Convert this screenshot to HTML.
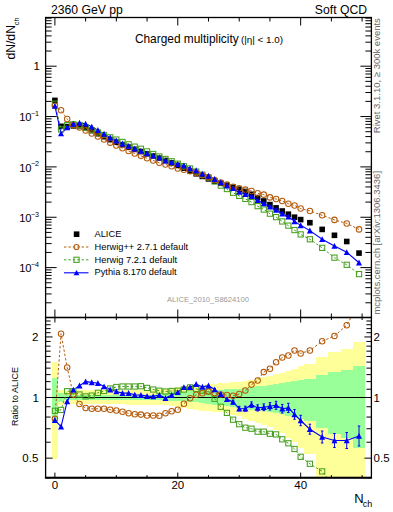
<!DOCTYPE html>
<html><head><meta charset="utf-8"><style>
html,body{margin:0;padding:0;background:#fff;width:393px;height:512px;overflow:hidden;font-family:"Liberation Sans",sans-serif}
</style></head><body>
<svg width="393" height="512" viewBox="0 0 393 512" style="position:absolute;left:0;top:0">
<rect x="0" y="0" width="393" height="512" fill="#fff"/>
<defs><clipPath id="cu"><rect x="45.60" y="17.50" width="325.80" height="300.00"/></clipPath>
<clipPath id="cl"><rect x="45.60" y="317.50" width="325.80" height="160.10"/></clipPath></defs>
<g clip-path="url(#cl)" shape-rendering="crispEdges">
<path d="M51.83,361.70 L57.97,361.70 L57.97,389.50 L64.12,389.50 L64.12,390.50 L70.26,390.50 L70.26,390.46 L76.40,390.46 L76.40,390.43 L82.55,390.43 L82.55,390.39 L88.69,390.39 L88.69,390.36 L94.84,390.36 L94.84,390.32 L100.98,390.32 L100.98,390.29 L107.12,390.29 L107.12,390.25 L113.27,390.25 L113.27,390.21 L119.41,390.21 L119.41,390.18 L125.56,390.18 L125.56,390.14 L131.70,390.14 L131.70,390.11 L137.84,390.11 L137.84,390.07 L143.99,390.07 L143.99,390.04 L150.13,390.04 L150.13,390.00 L156.28,390.00 L156.28,389.25 L162.42,389.25 L162.42,388.50 L168.56,388.50 L168.56,387.90 L174.71,387.90 L174.71,387.30 L180.85,387.30 L180.85,386.70 L187.00,386.70 L187.00,386.10 L193.14,386.10 L193.14,385.50 L199.28,385.50 L199.28,384.90 L205.43,384.90 L205.43,384.30 L211.57,384.30 L211.57,383.70 L217.72,383.70 L217.72,383.10 L223.86,383.10 L223.86,382.50 L230.00,382.50 L230.00,382.20 L236.15,382.20 L236.15,381.90 L242.29,381.90 L242.29,380.72 L248.44,380.72 L248.44,379.54 L254.58,379.54 L254.58,378.36 L260.72,378.36 L260.72,377.18 L266.87,377.18 L266.87,376.00 L273.01,376.00 L273.01,374.33 L279.16,374.33 L279.16,372.67 L285.30,372.67 L285.30,371.00 L291.44,371.00 L291.44,368.55 L297.59,368.55 L297.59,366.10 L303.73,366.10 L303.73,364.30 L316.02,364.30 L316.02,357.00 L328.31,357.00 L328.31,351.80 L340.60,351.80 L340.60,349.10 L352.88,349.10 L352.88,342.10 L365.17,342.10 L365.17,480.00 L352.88,480.00 L352.88,480.00 L340.60,480.00 L340.60,480.00 L328.31,480.00 L328.31,480.00 L316.02,480.00 L316.02,454.30 L303.73,454.30 L303.73,447.90 L297.59,447.90 L297.59,441.50 L291.44,441.50 L291.44,437.70 L285.30,437.70 L285.30,433.00 L279.16,433.00 L279.16,430.00 L273.01,430.00 L273.01,427.00 L266.87,427.00 L266.87,424.88 L260.72,424.88 L260.72,422.76 L254.58,422.76 L254.58,420.64 L248.44,420.64 L248.44,418.52 L242.29,418.52 L242.29,416.40 L236.15,416.40 L236.15,414.70 L230.00,414.70 L230.00,413.00 L223.86,413.00 L223.86,412.40 L217.72,412.40 L217.72,411.80 L211.57,411.80 L211.57,411.20 L205.43,411.20 L205.43,410.60 L199.28,410.60 L199.28,410.00 L193.14,410.00 L193.14,409.08 L187.00,409.08 L187.00,408.16 L180.85,408.16 L180.85,407.24 L174.71,407.24 L174.71,406.32 L168.56,406.32 L168.56,405.40 L162.42,405.40 L162.42,405.20 L156.28,405.20 L156.28,405.00 L150.13,405.00 L150.13,404.89 L143.99,404.89 L143.99,404.79 L137.84,404.79 L137.84,404.68 L131.70,404.68 L131.70,404.57 L125.56,404.57 L125.56,404.46 L119.41,404.46 L119.41,404.36 L113.27,404.36 L113.27,404.25 L107.12,404.25 L107.12,404.14 L100.98,404.14 L100.98,404.04 L94.84,404.04 L94.84,403.93 L88.69,403.93 L88.69,403.82 L82.55,403.82 L82.55,403.71 L76.40,403.71 L76.40,403.61 L70.26,403.61 L70.26,403.50 L64.12,403.50 L64.12,405.40 L57.97,405.40 L57.97,459.20 L51.83,459.20Z" fill="#ffff99"/>
<path d="M51.83,378.10 L57.97,378.10 L57.97,393.20 L64.12,393.20 L64.12,395.00 L70.26,395.00 L70.26,395.00 L76.40,395.00 L76.40,395.00 L82.55,395.00 L82.55,395.00 L88.69,395.00 L88.69,395.00 L94.84,395.00 L94.84,395.00 L100.98,395.00 L100.98,395.00 L107.12,395.00 L107.12,395.00 L113.27,395.00 L113.27,395.00 L119.41,395.00 L119.41,395.00 L125.56,395.00 L125.56,395.00 L131.70,395.00 L131.70,395.00 L137.84,395.00 L137.84,395.00 L143.99,395.00 L143.99,395.00 L150.13,395.00 L150.13,395.00 L156.28,395.00 L156.28,393.85 L162.42,393.85 L162.42,392.70 L168.56,392.70 L168.56,392.36 L174.71,392.36 L174.71,392.02 L180.85,392.02 L180.85,391.68 L187.00,391.68 L187.00,391.34 L193.14,391.34 L193.14,391.00 L199.28,391.00 L199.28,390.67 L205.43,390.67 L205.43,390.34 L211.57,390.34 L211.57,390.01 L217.72,390.01 L217.72,389.69 L223.86,389.69 L223.86,389.36 L230.00,389.36 L230.00,389.03 L236.15,389.03 L236.15,388.70 L242.29,388.70 L242.29,387.96 L248.44,387.96 L248.44,387.22 L254.58,387.22 L254.58,386.48 L260.72,386.48 L260.72,385.74 L266.87,385.74 L266.87,385.00 L273.01,385.00 L273.01,384.00 L279.16,384.00 L279.16,383.00 L285.30,383.00 L285.30,382.00 L291.44,382.00 L291.44,381.10 L297.59,381.10 L297.59,380.20 L303.73,380.20 L303.73,378.90 L316.02,378.90 L316.02,375.30 L328.31,375.30 L328.31,372.00 L340.60,372.00 L340.60,370.10 L352.88,370.10 L352.88,365.50 L365.17,365.50 L365.17,448.40 L352.88,448.40 L352.88,438.00 L340.60,438.00 L340.60,434.10 L328.31,434.10 L328.31,428.20 L316.02,428.20 L316.02,421.30 L303.73,421.30 L303.73,419.00 L297.59,419.00 L297.59,417.25 L291.44,417.25 L291.44,415.50 L285.30,415.50 L285.30,414.33 L279.16,414.33 L279.16,413.17 L273.01,413.17 L273.01,412.00 L266.87,412.00 L266.87,411.20 L260.72,411.20 L260.72,410.40 L254.58,410.40 L254.58,409.60 L248.44,409.60 L248.44,408.80 L242.29,408.80 L242.29,408.00 L236.15,408.00 L236.15,407.14 L230.00,407.14 L230.00,406.29 L223.86,406.29 L223.86,405.43 L217.72,405.43 L217.72,404.57 L211.57,404.57 L211.57,403.71 L205.43,403.71 L205.43,402.86 L199.28,402.86 L199.28,402.00 L193.14,402.00 L193.14,401.68 L187.00,401.68 L187.00,401.36 L180.85,401.36 L180.85,401.04 L174.71,401.04 L174.71,400.72 L168.56,400.72 L168.56,400.40 L162.42,400.40 L162.42,400.35 L156.28,400.35 L156.28,400.30 L150.13,400.30 L150.13,400.24 L143.99,400.24 L143.99,400.19 L137.84,400.19 L137.84,400.13 L131.70,400.13 L131.70,400.07 L125.56,400.07 L125.56,400.01 L119.41,400.01 L119.41,399.96 L113.27,399.96 L113.27,399.90 L107.12,399.90 L107.12,399.84 L100.98,399.84 L100.98,399.79 L94.84,399.79 L94.84,399.73 L88.69,399.73 L88.69,399.67 L82.55,399.67 L82.55,399.61 L76.40,399.61 L76.40,399.56 L70.26,399.56 L70.26,399.50 L64.12,399.50 L64.12,401.90 L57.97,401.90 L57.97,422.30 L51.83,422.30Z" fill="#99ff99"/>
</g>
<line x1="45.60" y1="397.55" x2="371.40" y2="397.55" stroke="#000" stroke-width="1.1"/>
<path clip-path="url(#cl)" d="M54.90,418.70 L61.04,333.70 L67.19,367.50 L73.33,394.50 L79.48,403.90 L85.62,408.00 L91.76,408.80 L97.91,408.80 L104.05,408.80 L110.20,409.70 L116.34,410.50 L122.48,411.70 L128.63,413.30 L134.77,414.30 L140.92,414.60 L147.06,415.50 L153.20,415.50 L159.35,415.80 L165.49,413.30 L171.64,411.30 L177.78,409.70 L183.92,403.80 L190.07,398.20 L196.21,394.80 L202.36,393.20 L208.50,391.50 L214.64,393.00 L220.79,394.50 L226.93,395.00 L233.08,395.80 L239.22,394.00 L245.36,390.50 L251.51,384.60 L257.65,380.50 L263.80,372.10 L269.94,368.70 L276.08,362.20 L282.23,357.50 L288.37,355.40 L294.52,350.40 L300.66,353.40 L309.88,350.50 L322.16,341.20 L334.45,335.90 L346.74,325.20 L359.03,302.70" fill="none" stroke="#b45a0a" stroke-width="1.00" stroke-dasharray="2.4,2.0"/>
<path clip-path="url(#cl)" d="M54.90,410.80 L61.04,409.90 L67.19,391.20 L73.33,391.20 L79.48,394.50 L85.62,396.40 L91.76,395.60 L97.91,392.80 L104.05,391.00 L110.20,388.50 L116.34,387.00 L122.48,386.50 L128.63,386.50 L134.77,386.50 L140.92,386.20 L147.06,387.90 L153.20,389.50 L159.35,390.70 L165.49,391.50 L171.64,391.00 L177.78,390.70 L183.92,389.50 L190.07,387.40 L196.21,388.80 L202.36,390.70 L208.50,391.50 L214.64,398.80 L220.79,406.80 L226.93,412.90 L233.08,419.70 L239.22,424.20 L245.36,427.70 L251.51,428.70 L257.65,431.70 L263.80,431.70 L269.94,433.80 L276.08,434.40 L282.23,439.30 L288.37,443.30 L294.52,449.00 L300.66,456.80 L309.88,463.80 L322.16,471.40 L334.45,487.00 L346.74,490.70 L359.03,481.50" fill="none" stroke="#46a01e" stroke-width="1.00" stroke-dasharray="2.4,2.0"/>
<path clip-path="url(#cl)" d="M54.90,420.10 L61.04,426.60 L67.19,401.40 L73.33,389.80 L79.48,385.70 L85.62,381.60 L91.76,382.40 L97.91,383.20 L104.05,386.50 L110.20,389.60 L116.34,391.50 L122.48,393.10 L128.63,393.10 L134.77,394.80 L140.92,395.10 L147.06,396.10 L153.20,396.40 L159.35,395.10 L165.49,398.10 L171.64,395.10 L177.78,392.30 L183.92,387.30 L190.07,387.30 L196.21,384.20 L202.36,386.90 L208.50,385.70 L214.64,389.50 L220.79,394.20 L226.93,399.30 L233.08,402.00 L239.22,408.60 L245.36,408.70 L251.51,404.70 L257.65,407.90 L263.80,407.30 L269.94,406.30 L276.08,405.30 L282.23,408.70 L288.37,407.90 L294.52,414.40 L300.66,420.50 L309.88,429.20 L322.16,437.00 L334.45,440.50 L346.74,440.50 L359.03,436.00" fill="none" stroke="#0000ff" stroke-width="1.10"/>
<path clip-path="url(#cl)" d="M214.64,388.50 V390.50 M213.39,388.50 H215.89 M213.39,390.50 H215.89 M220.79,392.90 V395.50 M219.54,392.90 H222.04 M219.54,395.50 H222.04 M226.93,397.70 V400.90 M225.68,397.70 H228.18 M225.68,400.90 H228.18 M233.08,400.10 V403.90 M231.83,400.10 H234.33 M231.83,403.90 H234.33 M239.22,406.40 V410.80 M237.97,406.40 H240.47 M237.97,410.80 H240.47 M245.36,406.20 V411.20 M244.11,406.20 H246.61 M244.11,411.20 H246.61 M251.51,401.90 V407.50 M250.26,401.90 H252.76 M250.26,407.50 H252.76 M257.65,404.80 V411.00 M256.40,404.80 H258.90 M256.40,411.00 H258.90 M263.80,403.90 V410.70 M262.55,403.90 H265.05 M262.55,410.70 H265.05 M269.94,402.60 V410.00 M268.69,402.60 H271.19 M268.69,410.00 H271.19 M276.08,401.30 V409.30 M274.83,401.30 H277.33 M274.83,409.30 H277.33 M282.23,404.40 V413.00 M280.98,404.40 H283.48 M280.98,413.00 H283.48 M288.37,403.30 V412.50 M287.12,403.30 H289.62 M287.12,412.50 H289.62 M294.52,409.50 V419.30 M293.27,409.50 H295.77 M293.27,419.30 H295.77 M300.66,415.30 V425.70 M299.41,415.30 H301.91 M299.41,425.70 H301.91 M309.88,424.20 V434.20 M308.63,424.20 H311.13 M308.63,434.20 H311.13 M322.16,431.00 V443.00 M320.91,431.00 H323.41 M320.91,443.00 H323.41 M334.45,433.50 V447.50 M333.20,433.50 H335.70 M333.20,447.50 H335.70 M346.74,432.50 V448.50 M345.49,432.50 H347.99 M345.49,448.50 H347.99 M359.03,426.00 V446.00 M357.78,426.00 H360.28 M357.78,446.00 H360.28" stroke="#0000ff" stroke-width="1" fill="none"/>
<g clip-path="url(#cl)" fill="none" stroke="#46a01e" stroke-width="1.05"><rect x="52.30" y="408.20" width="5.20" height="5.20"/><rect x="58.44" y="407.30" width="5.20" height="5.20"/><rect x="64.59" y="388.60" width="5.20" height="5.20"/><rect x="70.73" y="388.60" width="5.20" height="5.20"/><rect x="76.88" y="391.90" width="5.20" height="5.20"/><rect x="83.02" y="393.80" width="5.20" height="5.20"/><rect x="89.16" y="393.00" width="5.20" height="5.20"/><rect x="95.31" y="390.20" width="5.20" height="5.20"/><rect x="101.45" y="388.40" width="5.20" height="5.20"/><rect x="107.60" y="385.90" width="5.20" height="5.20"/><rect x="113.74" y="384.40" width="5.20" height="5.20"/><rect x="119.88" y="383.90" width="5.20" height="5.20"/><rect x="126.03" y="383.90" width="5.20" height="5.20"/><rect x="132.17" y="383.90" width="5.20" height="5.20"/><rect x="138.32" y="383.60" width="5.20" height="5.20"/><rect x="144.46" y="385.30" width="5.20" height="5.20"/><rect x="150.60" y="386.90" width="5.20" height="5.20"/><rect x="156.75" y="388.10" width="5.20" height="5.20"/><rect x="162.89" y="388.90" width="5.20" height="5.20"/><rect x="169.04" y="388.40" width="5.20" height="5.20"/><rect x="175.18" y="388.10" width="5.20" height="5.20"/><rect x="181.32" y="386.90" width="5.20" height="5.20"/><rect x="187.47" y="384.80" width="5.20" height="5.20"/><rect x="193.61" y="386.20" width="5.20" height="5.20"/><rect x="199.76" y="388.10" width="5.20" height="5.20"/><rect x="205.90" y="388.90" width="5.20" height="5.20"/><rect x="212.04" y="396.20" width="5.20" height="5.20"/><rect x="218.19" y="404.20" width="5.20" height="5.20"/><rect x="224.33" y="410.30" width="5.20" height="5.20"/><rect x="230.48" y="417.10" width="5.20" height="5.20"/><rect x="236.62" y="421.60" width="5.20" height="5.20"/><rect x="242.76" y="425.10" width="5.20" height="5.20"/><rect x="248.91" y="426.10" width="5.20" height="5.20"/><rect x="255.05" y="429.10" width="5.20" height="5.20"/><rect x="261.20" y="429.10" width="5.20" height="5.20"/><rect x="267.34" y="431.20" width="5.20" height="5.20"/><rect x="273.48" y="431.80" width="5.20" height="5.20"/><rect x="279.63" y="436.70" width="5.20" height="5.20"/><rect x="285.77" y="440.70" width="5.20" height="5.20"/><rect x="291.92" y="446.40" width="5.20" height="5.20"/><rect x="298.06" y="454.20" width="5.20" height="5.20"/><rect x="307.28" y="461.20" width="5.20" height="5.20"/><rect x="319.56" y="468.80" width="5.20" height="5.20"/><rect x="331.85" y="484.40" width="5.20" height="5.20"/><rect x="344.14" y="488.10" width="5.20" height="5.20"/><rect x="356.43" y="478.90" width="5.20" height="5.20"/></g>
<g clip-path="url(#cl)" fill="none" stroke="#b45a0a" stroke-width="1.05"><circle cx="54.90" cy="418.70" r="2.75"/><circle cx="61.04" cy="333.70" r="2.75"/><circle cx="67.19" cy="367.50" r="2.75"/><circle cx="73.33" cy="394.50" r="2.75"/><circle cx="79.48" cy="403.90" r="2.75"/><circle cx="85.62" cy="408.00" r="2.75"/><circle cx="91.76" cy="408.80" r="2.75"/><circle cx="97.91" cy="408.80" r="2.75"/><circle cx="104.05" cy="408.80" r="2.75"/><circle cx="110.20" cy="409.70" r="2.75"/><circle cx="116.34" cy="410.50" r="2.75"/><circle cx="122.48" cy="411.70" r="2.75"/><circle cx="128.63" cy="413.30" r="2.75"/><circle cx="134.77" cy="414.30" r="2.75"/><circle cx="140.92" cy="414.60" r="2.75"/><circle cx="147.06" cy="415.50" r="2.75"/><circle cx="153.20" cy="415.50" r="2.75"/><circle cx="159.35" cy="415.80" r="2.75"/><circle cx="165.49" cy="413.30" r="2.75"/><circle cx="171.64" cy="411.30" r="2.75"/><circle cx="177.78" cy="409.70" r="2.75"/><circle cx="183.92" cy="403.80" r="2.75"/><circle cx="190.07" cy="398.20" r="2.75"/><circle cx="196.21" cy="394.80" r="2.75"/><circle cx="202.36" cy="393.20" r="2.75"/><circle cx="208.50" cy="391.50" r="2.75"/><circle cx="214.64" cy="393.00" r="2.75"/><circle cx="220.79" cy="394.50" r="2.75"/><circle cx="226.93" cy="395.00" r="2.75"/><circle cx="233.08" cy="395.80" r="2.75"/><circle cx="239.22" cy="394.00" r="2.75"/><circle cx="245.36" cy="390.50" r="2.75"/><circle cx="251.51" cy="384.60" r="2.75"/><circle cx="257.65" cy="380.50" r="2.75"/><circle cx="263.80" cy="372.10" r="2.75"/><circle cx="269.94" cy="368.70" r="2.75"/><circle cx="276.08" cy="362.20" r="2.75"/><circle cx="282.23" cy="357.50" r="2.75"/><circle cx="288.37" cy="355.40" r="2.75"/><circle cx="294.52" cy="350.40" r="2.75"/><circle cx="300.66" cy="353.40" r="2.75"/><circle cx="309.88" cy="350.50" r="2.75"/><circle cx="322.16" cy="341.20" r="2.75"/><circle cx="334.45" cy="335.90" r="2.75"/><circle cx="346.74" cy="325.20" r="2.75"/><circle cx="359.03" cy="302.70" r="2.75"/></g>
<g clip-path="url(#cl)" fill="#0000ff"><path d="M54.90,417.00 L57.90,422.90 L51.90,422.90 Z"/><path d="M61.04,423.50 L64.04,429.40 L58.04,429.40 Z"/><path d="M67.19,398.30 L70.19,404.20 L64.19,404.20 Z"/><path d="M73.33,386.70 L76.33,392.60 L70.33,392.60 Z"/><path d="M79.48,382.60 L82.48,388.50 L76.48,388.50 Z"/><path d="M85.62,378.50 L88.62,384.40 L82.62,384.40 Z"/><path d="M91.76,379.30 L94.76,385.20 L88.76,385.20 Z"/><path d="M97.91,380.10 L100.91,386.00 L94.91,386.00 Z"/><path d="M104.05,383.40 L107.05,389.30 L101.05,389.30 Z"/><path d="M110.20,386.50 L113.20,392.40 L107.20,392.40 Z"/><path d="M116.34,388.40 L119.34,394.30 L113.34,394.30 Z"/><path d="M122.48,390.00 L125.48,395.90 L119.48,395.90 Z"/><path d="M128.63,390.00 L131.63,395.90 L125.63,395.90 Z"/><path d="M134.77,391.70 L137.77,397.60 L131.77,397.60 Z"/><path d="M140.92,392.00 L143.92,397.90 L137.92,397.90 Z"/><path d="M147.06,393.00 L150.06,398.90 L144.06,398.90 Z"/><path d="M153.20,393.30 L156.20,399.20 L150.20,399.20 Z"/><path d="M159.35,392.00 L162.35,397.90 L156.35,397.90 Z"/><path d="M165.49,395.00 L168.49,400.90 L162.49,400.90 Z"/><path d="M171.64,392.00 L174.64,397.90 L168.64,397.90 Z"/><path d="M177.78,389.20 L180.78,395.10 L174.78,395.10 Z"/><path d="M183.92,384.20 L186.92,390.10 L180.92,390.10 Z"/><path d="M190.07,384.20 L193.07,390.10 L187.07,390.10 Z"/><path d="M196.21,381.10 L199.21,387.00 L193.21,387.00 Z"/><path d="M202.36,383.80 L205.36,389.70 L199.36,389.70 Z"/><path d="M208.50,382.60 L211.50,388.50 L205.50,388.50 Z"/><path d="M214.64,386.40 L217.64,392.30 L211.64,392.30 Z"/><path d="M220.79,391.10 L223.79,397.00 L217.79,397.00 Z"/><path d="M226.93,396.20 L229.93,402.10 L223.93,402.10 Z"/><path d="M233.08,398.90 L236.08,404.80 L230.08,404.80 Z"/><path d="M239.22,405.50 L242.22,411.40 L236.22,411.40 Z"/><path d="M245.36,405.60 L248.36,411.50 L242.36,411.50 Z"/><path d="M251.51,401.60 L254.51,407.50 L248.51,407.50 Z"/><path d="M257.65,404.80 L260.65,410.70 L254.65,410.70 Z"/><path d="M263.80,404.20 L266.80,410.10 L260.80,410.10 Z"/><path d="M269.94,403.20 L272.94,409.10 L266.94,409.10 Z"/><path d="M276.08,402.20 L279.08,408.10 L273.08,408.10 Z"/><path d="M282.23,405.60 L285.23,411.50 L279.23,411.50 Z"/><path d="M288.37,404.80 L291.37,410.70 L285.37,410.70 Z"/><path d="M294.52,411.30 L297.52,417.20 L291.52,417.20 Z"/><path d="M300.66,417.40 L303.66,423.30 L297.66,423.30 Z"/><path d="M309.88,426.10 L312.88,432.00 L306.88,432.00 Z"/><path d="M322.16,433.90 L325.16,439.80 L319.16,439.80 Z"/><path d="M334.45,437.40 L337.45,443.30 L331.45,443.30 Z"/><path d="M346.74,437.40 L349.74,443.30 L343.74,443.30 Z"/><path d="M359.03,432.90 L362.03,438.80 L356.03,438.80 Z"/></g>
<g clip-path="url(#cu)" fill="#000"><rect x="52.10" y="97.60" width="5.60" height="5.60"/><rect x="58.24" y="123.50" width="5.60" height="5.60"/><rect x="64.39" y="123.80" width="5.60" height="5.60"/><rect x="70.53" y="123.10" width="5.60" height="5.60"/><rect x="76.68" y="123.00" width="5.60" height="5.60"/><rect x="82.82" y="125.00" width="5.60" height="5.60"/><rect x="88.96" y="127.80" width="5.60" height="5.60"/><rect x="95.11" y="130.90" width="5.60" height="5.60"/><rect x="101.25" y="133.90" width="5.60" height="5.60"/><rect x="107.40" y="136.80" width="5.60" height="5.60"/><rect x="113.54" y="139.40" width="5.60" height="5.60"/><rect x="119.68" y="141.90" width="5.60" height="5.60"/><rect x="125.83" y="144.30" width="5.60" height="5.60"/><rect x="131.97" y="146.60" width="5.60" height="5.60"/><rect x="138.12" y="148.80" width="5.60" height="5.60"/><rect x="144.26" y="151.00" width="5.60" height="5.60"/><rect x="150.40" y="153.20" width="5.60" height="5.60"/><rect x="156.55" y="155.40" width="5.60" height="5.60"/><rect x="162.69" y="157.70" width="5.60" height="5.60"/><rect x="168.84" y="160.10" width="5.60" height="5.60"/><rect x="174.98" y="162.60" width="5.60" height="5.60"/><rect x="181.12" y="165.40" width="5.60" height="5.60"/><rect x="187.27" y="168.20" width="5.60" height="5.60"/><rect x="193.41" y="171.00" width="5.60" height="5.60"/><rect x="199.56" y="173.60" width="5.60" height="5.60"/><rect x="205.70" y="176.10" width="5.60" height="5.60"/><rect x="211.84" y="178.40" width="5.60" height="5.60"/><rect x="217.99" y="180.50" width="5.60" height="5.60"/><rect x="224.13" y="182.40" width="5.60" height="5.60"/><rect x="230.28" y="184.40" width="5.60" height="5.60"/><rect x="236.42" y="186.40" width="5.60" height="5.60"/><rect x="242.56" y="188.60" width="5.60" height="5.60"/><rect x="248.71" y="191.50" width="5.60" height="5.60"/><rect x="254.85" y="194.80" width="5.60" height="5.60"/><rect x="261.00" y="198.20" width="5.60" height="5.60"/><rect x="267.14" y="201.80" width="5.60" height="5.60"/><rect x="273.28" y="205.10" width="5.60" height="5.60"/><rect x="279.43" y="208.20" width="5.60" height="5.60"/><rect x="285.57" y="211.40" width="5.60" height="5.60"/><rect x="291.72" y="214.40" width="5.60" height="5.60"/><rect x="297.86" y="216.80" width="5.60" height="5.60"/><rect x="307.08" y="219.90" width="5.60" height="5.60"/><rect x="319.36" y="226.60" width="5.60" height="5.60"/><rect x="331.65" y="232.50" width="5.60" height="5.60"/><rect x="343.94" y="238.70" width="5.60" height="5.60"/><rect x="356.23" y="250.30" width="5.60" height="5.60"/></g>
<path clip-path="url(#cu)" d="M54.90,105.69 L61.04,110.33 L67.19,119.08 L73.33,125.14 L79.48,127.39 L85.62,130.41 L91.76,133.41 L97.91,136.51 L104.05,139.51 L110.20,142.64 L116.34,145.44 L122.48,148.24 L128.63,151.04 L134.77,153.59 L140.92,155.86 L147.06,158.29 L153.20,160.49 L159.35,162.76 L165.49,164.44 L171.64,166.34 L177.78,168.44 L183.92,169.76 L190.07,171.16 L196.21,173.11 L202.36,175.31 L208.50,177.39 L214.64,180.06 L220.79,182.54 L226.93,184.56 L233.08,186.76 L239.22,188.31 L245.36,189.64 L251.51,191.06 L257.65,193.34 L263.80,194.63 L269.94,197.38 L276.08,199.06 L282.23,200.98 L288.37,203.66 L294.52,205.41 L300.66,208.56 L309.88,210.93 L322.16,215.31 L334.45,219.88 L346.74,223.40 L359.03,229.38" fill="none" stroke="#b45a0a" stroke-width="1.00" stroke-dasharray="2.4,2.0"/>
<path clip-path="url(#cu)" d="M54.90,103.71 L61.04,129.39 L67.19,125.01 L73.33,124.31 L79.48,125.04 L85.62,127.51 L91.76,130.11 L97.91,132.51 L104.05,135.06 L110.20,137.34 L116.34,139.56 L122.48,141.94 L128.63,144.34 L134.77,146.64 L140.92,148.76 L147.06,151.39 L153.20,153.99 L159.35,156.49 L165.49,158.99 L171.64,161.26 L177.78,163.69 L183.92,166.19 L190.07,168.46 L196.21,171.61 L202.36,174.69 L208.50,177.39 L214.64,181.51 L220.79,185.61 L226.93,189.04 L233.08,192.74 L239.22,195.87 L245.36,198.94 L251.51,202.09 L257.65,206.14 L263.80,209.54 L269.94,213.67 L276.08,217.12 L282.23,221.44 L288.37,225.64 L294.52,230.07 L300.66,234.42 L309.88,239.27 L322.16,247.87 L334.45,257.67 L346.74,264.80 L359.03,274.10" fill="none" stroke="#46a01e" stroke-width="1.00" stroke-dasharray="2.4,2.0"/>
<path clip-path="url(#cu)" d="M54.90,106.04 L61.04,133.57 L67.19,127.56 L73.33,123.96 L79.48,122.84 L85.62,123.81 L91.76,126.81 L97.91,130.11 L104.05,133.94 L110.20,137.61 L116.34,140.69 L122.48,143.59 L128.63,145.99 L134.77,148.71 L140.92,150.99 L147.06,153.44 L153.20,155.71 L159.35,157.59 L165.49,160.64 L171.64,162.29 L177.78,164.09 L183.92,165.64 L190.07,168.44 L196.21,170.46 L202.36,173.74 L208.50,175.94 L214.64,179.19 L220.79,182.46 L226.93,185.64 L233.08,188.31 L239.22,191.96 L245.36,194.19 L251.51,196.09 L257.65,200.19 L263.80,203.44 L269.94,206.79 L276.08,209.84 L282.23,213.79 L288.37,216.79 L294.52,221.41 L300.66,225.34 L309.88,230.62 L322.16,239.27 L334.45,246.04 L346.74,252.24 L359.03,262.72" fill="none" stroke="#0000ff" stroke-width="1.10"/>
<g clip-path="url(#cu)" fill="none" stroke="#46a01e" stroke-width="1.05"><rect x="52.30" y="101.11" width="5.20" height="5.20"/><rect x="58.44" y="126.79" width="5.20" height="5.20"/><rect x="64.59" y="122.41" width="5.20" height="5.20"/><rect x="70.73" y="121.71" width="5.20" height="5.20"/><rect x="76.88" y="122.44" width="5.20" height="5.20"/><rect x="83.02" y="124.91" width="5.20" height="5.20"/><rect x="89.16" y="127.51" width="5.20" height="5.20"/><rect x="95.31" y="129.91" width="5.20" height="5.20"/><rect x="101.45" y="132.46" width="5.20" height="5.20"/><rect x="107.60" y="134.74" width="5.20" height="5.20"/><rect x="113.74" y="136.96" width="5.20" height="5.20"/><rect x="119.88" y="139.34" width="5.20" height="5.20"/><rect x="126.03" y="141.74" width="5.20" height="5.20"/><rect x="132.17" y="144.04" width="5.20" height="5.20"/><rect x="138.32" y="146.16" width="5.20" height="5.20"/><rect x="144.46" y="148.79" width="5.20" height="5.20"/><rect x="150.60" y="151.39" width="5.20" height="5.20"/><rect x="156.75" y="153.89" width="5.20" height="5.20"/><rect x="162.89" y="156.39" width="5.20" height="5.20"/><rect x="169.04" y="158.66" width="5.20" height="5.20"/><rect x="175.18" y="161.09" width="5.20" height="5.20"/><rect x="181.32" y="163.59" width="5.20" height="5.20"/><rect x="187.47" y="165.86" width="5.20" height="5.20"/><rect x="193.61" y="169.01" width="5.20" height="5.20"/><rect x="199.76" y="172.09" width="5.20" height="5.20"/><rect x="205.90" y="174.79" width="5.20" height="5.20"/><rect x="212.04" y="178.91" width="5.20" height="5.20"/><rect x="218.19" y="183.01" width="5.20" height="5.20"/><rect x="224.33" y="186.44" width="5.20" height="5.20"/><rect x="230.48" y="190.14" width="5.20" height="5.20"/><rect x="236.62" y="193.27" width="5.20" height="5.20"/><rect x="242.76" y="196.34" width="5.20" height="5.20"/><rect x="248.91" y="199.49" width="5.20" height="5.20"/><rect x="255.05" y="203.54" width="5.20" height="5.20"/><rect x="261.20" y="206.94" width="5.20" height="5.20"/><rect x="267.34" y="211.07" width="5.20" height="5.20"/><rect x="273.48" y="214.52" width="5.20" height="5.20"/><rect x="279.63" y="218.84" width="5.20" height="5.20"/><rect x="285.77" y="223.04" width="5.20" height="5.20"/><rect x="291.92" y="227.47" width="5.20" height="5.20"/><rect x="298.06" y="231.82" width="5.20" height="5.20"/><rect x="307.28" y="236.67" width="5.20" height="5.20"/><rect x="319.56" y="245.27" width="5.20" height="5.20"/><rect x="331.85" y="255.07" width="5.20" height="5.20"/><rect x="344.14" y="262.20" width="5.20" height="5.20"/><rect x="356.43" y="271.50" width="5.20" height="5.20"/></g>
<g clip-path="url(#cu)" fill="none" stroke="#b45a0a" stroke-width="1.05"><circle cx="54.90" cy="105.69" r="2.75"/><circle cx="61.04" cy="110.33" r="2.75"/><circle cx="67.19" cy="119.08" r="2.75"/><circle cx="73.33" cy="125.14" r="2.75"/><circle cx="79.48" cy="127.39" r="2.75"/><circle cx="85.62" cy="130.41" r="2.75"/><circle cx="91.76" cy="133.41" r="2.75"/><circle cx="97.91" cy="136.51" r="2.75"/><circle cx="104.05" cy="139.51" r="2.75"/><circle cx="110.20" cy="142.64" r="2.75"/><circle cx="116.34" cy="145.44" r="2.75"/><circle cx="122.48" cy="148.24" r="2.75"/><circle cx="128.63" cy="151.04" r="2.75"/><circle cx="134.77" cy="153.59" r="2.75"/><circle cx="140.92" cy="155.86" r="2.75"/><circle cx="147.06" cy="158.29" r="2.75"/><circle cx="153.20" cy="160.49" r="2.75"/><circle cx="159.35" cy="162.76" r="2.75"/><circle cx="165.49" cy="164.44" r="2.75"/><circle cx="171.64" cy="166.34" r="2.75"/><circle cx="177.78" cy="168.44" r="2.75"/><circle cx="183.92" cy="169.76" r="2.75"/><circle cx="190.07" cy="171.16" r="2.75"/><circle cx="196.21" cy="173.11" r="2.75"/><circle cx="202.36" cy="175.31" r="2.75"/><circle cx="208.50" cy="177.39" r="2.75"/><circle cx="214.64" cy="180.06" r="2.75"/><circle cx="220.79" cy="182.54" r="2.75"/><circle cx="226.93" cy="184.56" r="2.75"/><circle cx="233.08" cy="186.76" r="2.75"/><circle cx="239.22" cy="188.31" r="2.75"/><circle cx="245.36" cy="189.64" r="2.75"/><circle cx="251.51" cy="191.06" r="2.75"/><circle cx="257.65" cy="193.34" r="2.75"/><circle cx="263.80" cy="194.63" r="2.75"/><circle cx="269.94" cy="197.38" r="2.75"/><circle cx="276.08" cy="199.06" r="2.75"/><circle cx="282.23" cy="200.98" r="2.75"/><circle cx="288.37" cy="203.66" r="2.75"/><circle cx="294.52" cy="205.41" r="2.75"/><circle cx="300.66" cy="208.56" r="2.75"/><circle cx="309.88" cy="210.93" r="2.75"/><circle cx="322.16" cy="215.31" r="2.75"/><circle cx="334.45" cy="219.88" r="2.75"/><circle cx="346.74" cy="223.40" r="2.75"/><circle cx="359.03" cy="229.38" r="2.75"/></g>
<g clip-path="url(#cu)" fill="#0000ff"><path d="M54.90,102.94 L57.90,108.84 L51.90,108.84 Z"/><path d="M61.04,130.47 L64.04,136.37 L58.04,136.37 Z"/><path d="M67.19,124.46 L70.19,130.36 L64.19,130.36 Z"/><path d="M73.33,120.86 L76.33,126.76 L70.33,126.76 Z"/><path d="M79.48,119.74 L82.48,125.64 L76.48,125.64 Z"/><path d="M85.62,120.71 L88.62,126.61 L82.62,126.61 Z"/><path d="M91.76,123.71 L94.76,129.61 L88.76,129.61 Z"/><path d="M97.91,127.01 L100.91,132.91 L94.91,132.91 Z"/><path d="M104.05,130.84 L107.05,136.74 L101.05,136.74 Z"/><path d="M110.20,134.51 L113.20,140.41 L107.20,140.41 Z"/><path d="M116.34,137.59 L119.34,143.49 L113.34,143.49 Z"/><path d="M122.48,140.49 L125.48,146.39 L119.48,146.39 Z"/><path d="M128.63,142.89 L131.63,148.79 L125.63,148.79 Z"/><path d="M134.77,145.61 L137.77,151.51 L131.77,151.51 Z"/><path d="M140.92,147.89 L143.92,153.79 L137.92,153.79 Z"/><path d="M147.06,150.34 L150.06,156.24 L144.06,156.24 Z"/><path d="M153.20,152.61 L156.20,158.51 L150.20,158.51 Z"/><path d="M159.35,154.49 L162.35,160.39 L156.35,160.39 Z"/><path d="M165.49,157.54 L168.49,163.44 L162.49,163.44 Z"/><path d="M171.64,159.19 L174.64,165.09 L168.64,165.09 Z"/><path d="M177.78,160.99 L180.78,166.89 L174.78,166.89 Z"/><path d="M183.92,162.54 L186.92,168.44 L180.92,168.44 Z"/><path d="M190.07,165.34 L193.07,171.24 L187.07,171.24 Z"/><path d="M196.21,167.36 L199.21,173.26 L193.21,173.26 Z"/><path d="M202.36,170.64 L205.36,176.54 L199.36,176.54 Z"/><path d="M208.50,172.84 L211.50,178.74 L205.50,178.74 Z"/><path d="M214.64,176.09 L217.64,181.99 L211.64,181.99 Z"/><path d="M220.79,179.36 L223.79,185.26 L217.79,185.26 Z"/><path d="M226.93,182.54 L229.93,188.44 L223.93,188.44 Z"/><path d="M233.08,185.21 L236.08,191.11 L230.08,191.11 Z"/><path d="M239.22,188.86 L242.22,194.76 L236.22,194.76 Z"/><path d="M245.36,191.09 L248.36,196.99 L242.36,196.99 Z"/><path d="M251.51,192.99 L254.51,198.89 L248.51,198.89 Z"/><path d="M257.65,197.09 L260.65,202.99 L254.65,202.99 Z"/><path d="M263.80,200.34 L266.80,206.24 L260.80,206.24 Z"/><path d="M269.94,203.69 L272.94,209.59 L266.94,209.59 Z"/><path d="M276.08,206.74 L279.08,212.64 L273.08,212.64 Z"/><path d="M282.23,210.69 L285.23,216.59 L279.23,216.59 Z"/><path d="M288.37,213.69 L291.37,219.59 L285.37,219.59 Z"/><path d="M294.52,218.31 L297.52,224.21 L291.52,224.21 Z"/><path d="M300.66,222.24 L303.66,228.14 L297.66,228.14 Z"/><path d="M309.88,227.52 L312.88,233.42 L306.88,233.42 Z"/><path d="M322.16,236.17 L325.16,242.07 L319.16,242.07 Z"/><path d="M334.45,242.94 L337.45,248.84 L331.45,248.84 Z"/><path d="M346.74,249.14 L349.74,255.04 L343.74,255.04 Z"/><path d="M359.03,259.62 L362.03,265.52 L356.03,265.52 Z"/></g>
<path d="M45.60,302.79 H51.60 M371.40,302.79 H365.40 M45.60,293.93 H51.60 M371.40,293.93 H365.40 M45.60,287.64 H51.60 M371.40,287.64 H365.40 M45.60,282.76 H51.60 M371.40,282.76 H365.40 M45.60,278.77 H51.60 M371.40,278.77 H365.40 M45.60,275.40 H51.60 M371.40,275.40 H365.40 M45.60,272.48 H51.60 M371.40,272.48 H365.40 M45.60,269.90 H51.60 M371.40,269.90 H365.40 M45.60,267.60 H56.60 M371.40,267.60 H360.40 M45.60,252.44 H51.60 M371.40,252.44 H365.40 M45.60,243.58 H51.60 M371.40,243.58 H365.40 M45.60,237.29 H51.60 M371.40,237.29 H365.40 M45.60,232.41 H51.60 M371.40,232.41 H365.40 M45.60,228.42 H51.60 M371.40,228.42 H365.40 M45.60,225.05 H51.60 M371.40,225.05 H365.40 M45.60,222.13 H51.60 M371.40,222.13 H365.40 M45.60,219.55 H51.60 M371.40,219.55 H365.40 M45.60,217.25 H56.60 M371.40,217.25 H360.40 M45.60,202.09 H51.60 M371.40,202.09 H365.40 M45.60,193.23 H51.60 M371.40,193.23 H365.40 M45.60,186.94 H51.60 M371.40,186.94 H365.40 M45.60,182.06 H51.60 M371.40,182.06 H365.40 M45.60,178.07 H51.60 M371.40,178.07 H365.40 M45.60,174.70 H51.60 M371.40,174.70 H365.40 M45.60,171.78 H51.60 M371.40,171.78 H365.40 M45.60,169.20 H51.60 M371.40,169.20 H365.40 M45.60,166.90 H56.60 M371.40,166.90 H360.40 M45.60,151.74 H51.60 M371.40,151.74 H365.40 M45.60,142.88 H51.60 M371.40,142.88 H365.40 M45.60,136.59 H51.60 M371.40,136.59 H365.40 M45.60,131.71 H51.60 M371.40,131.71 H365.40 M45.60,127.72 H51.60 M371.40,127.72 H365.40 M45.60,124.35 H51.60 M371.40,124.35 H365.40 M45.60,121.43 H51.60 M371.40,121.43 H365.40 M45.60,118.85 H51.60 M371.40,118.85 H365.40 M45.60,116.55 H56.60 M371.40,116.55 H360.40 M45.60,101.39 H51.60 M371.40,101.39 H365.40 M45.60,92.53 H51.60 M371.40,92.53 H365.40 M45.60,86.24 H51.60 M371.40,86.24 H365.40 M45.60,81.36 H51.60 M371.40,81.36 H365.40 M45.60,77.37 H51.60 M371.40,77.37 H365.40 M45.60,74.00 H51.60 M371.40,74.00 H365.40 M45.60,71.08 H51.60 M371.40,71.08 H365.40 M45.60,68.50 H51.60 M371.40,68.50 H365.40 M45.60,66.20 H56.60 M371.40,66.20 H360.40 M45.60,51.04 H51.60 M371.40,51.04 H365.40 M45.60,42.18 H51.60 M371.40,42.18 H365.40 M45.60,35.89 H51.60 M371.40,35.89 H365.40 M45.60,31.01 H51.60 M371.40,31.01 H365.40 M45.60,27.02 H51.60 M371.40,27.02 H365.40 M45.60,23.65 H51.60 M371.40,23.65 H365.40 M45.60,20.73 H51.60 M371.40,20.73 H365.40 M45.60,18.15 H51.60 M371.40,18.15 H365.40 M54.90,17.50 V25.50 M54.90,317.50 V309.50 M85.62,17.50 V21.50 M85.62,317.50 V313.50 M116.34,17.50 V21.50 M116.34,317.50 V313.50 M147.06,17.50 V21.50 M147.06,317.50 V313.50 M177.78,17.50 V25.50 M177.78,317.50 V309.50 M208.50,17.50 V21.50 M208.50,317.50 V313.50 M239.22,17.50 V21.50 M239.22,317.50 V313.50 M269.94,17.50 V21.50 M269.94,317.50 V313.50 M300.66,17.50 V25.50 M300.66,317.50 V309.50 M331.38,17.50 V21.50 M331.38,317.50 V313.50 M362.10,17.50 V21.50 M362.10,317.50 V313.50 M45.60,477.66 H50.60 M371.40,477.66 H366.40 M45.60,458.15 H52.60 M371.40,458.15 H364.40 M45.60,442.21 H50.60 M371.40,442.21 H366.40 M45.60,428.73 H50.60 M371.40,428.73 H366.40 M45.60,417.06 H50.60 M371.40,417.06 H366.40 M45.60,406.76 H50.60 M371.40,406.76 H366.40 M45.60,389.22 H50.60 M371.40,389.22 H366.40 M45.60,381.61 H50.60 M371.40,381.61 H366.40 M45.60,374.61 H50.60 M371.40,374.61 H366.40 M45.60,368.13 H50.60 M371.40,368.13 H366.40 M45.60,362.10 H50.60 M371.40,362.10 H366.40 M45.60,356.46 H50.60 M371.40,356.46 H366.40 M45.60,351.16 H50.60 M371.40,351.16 H366.40 M45.60,346.16 H50.60 M371.40,346.16 H366.40 M45.60,341.44 H50.60 M371.40,341.44 H366.40 M45.60,336.95 H52.60 M371.40,336.95 H364.40 M45.60,332.69 H50.60 M371.40,332.69 H366.40 M45.60,328.62 H50.60 M371.40,328.62 H366.40 M45.60,324.73 H50.60 M371.40,324.73 H366.40 M45.60,321.01 H50.60 M371.40,321.01 H366.40 M54.90,317.50 V322.50 M54.90,477.60 V472.60 M85.62,317.50 V320.00 M85.62,477.60 V475.10 M116.34,317.50 V320.00 M116.34,477.60 V475.10 M147.06,317.50 V320.00 M147.06,477.60 V475.10 M177.78,317.50 V322.50 M177.78,477.60 V472.60 M208.50,317.50 V320.00 M208.50,477.60 V475.10 M239.22,317.50 V320.00 M239.22,477.60 V475.10 M269.94,317.50 V320.00 M269.94,477.60 V475.10 M300.66,317.50 V322.50 M300.66,477.60 V472.60 M331.38,317.50 V320.00 M331.38,477.60 V475.10 M362.10,317.50 V320.00 M362.10,477.60 V475.10" stroke="#000" stroke-width="1" fill="none"/>
<rect x="45.60" y="17.50" width="325.80" height="300.00" fill="none" stroke="#000" stroke-width="1.3"/>
<rect x="45.60" y="317.50" width="325.80" height="160.10" fill="none" stroke="#000" stroke-width="1.3"/>
<line x1="44.95" y1="477.75" x2="372.05" y2="477.75" stroke="#000" stroke-width="1.8"/>
<rect x="73.8" y="231.4" width="5.6" height="5.6" fill="#000"/>
<path d="M64.0,247.0 H88.5" stroke="#b45a0a" stroke-width="1" stroke-dasharray="2.4,2.0"/>
<circle cx="76.5" cy="247.0" r="2.55" fill="none" stroke="#b45a0a" stroke-width="1.05"/>
<path d="M64.0,259.8 H88.5" stroke="#46a01e" stroke-width="1" stroke-dasharray="2.4,2.0"/>
<rect x="73.9" y="257.2" width="5.2" height="5.2" fill="none" stroke="#46a01e" stroke-width="1.05"/>
<path d="M64.0,272.8 H88.5" stroke="#0000ff" stroke-width="1.1"/>
<path d="M76.5,270.0 L79.4,275.3 L73.6,275.3 Z" fill="#0000ff"/>
<text x="94.50" y="236.60" font-size="9.30" text-anchor="start" fill="#000" font-family="Liberation Sans, sans-serif" >ALICE</text>
<text x="94.50" y="249.80" font-size="9.30" text-anchor="start" fill="#000" font-family="Liberation Sans, sans-serif" >Herwig++ 2.7.1 default</text>
<text x="94.50" y="262.60" font-size="9.30" text-anchor="start" fill="#000" font-family="Liberation Sans, sans-serif" >Herwig 7.2.1 default</text>
<text x="94.50" y="275.40" font-size="9.30" text-anchor="start" fill="#000" font-family="Liberation Sans, sans-serif" >Pythia 8.170 default</text>
<text x="51.00" y="14.00" font-size="12.20" text-anchor="start" fill="#000" font-family="Liberation Sans, sans-serif" >2360 GeV pp</text>
<text x="367.00" y="14.00" font-size="12.20" text-anchor="end" fill="#000" font-family="Liberation Sans, sans-serif" >Soft QCD</text>
<text x="134.90" y="43.40" font-size="11.90" text-anchor="start" fill="#000" font-family="Liberation Sans, sans-serif" >Charged multiplicity</text>
<text x="241.00" y="43.30" font-size="9.85" text-anchor="start" fill="#000" font-family="Liberation Sans, sans-serif" >(|η| &lt; 1.0)</text>
<text x="208.00" y="302.00" font-size="7.60" text-anchor="middle" fill="#999999" font-family="Liberation Sans, sans-serif" >ALICE_2010_S8624100</text>
<text x="40.00" y="70.00" font-size="11.50" text-anchor="end" fill="#000" font-family="Liberation Sans, sans-serif" >1</text>
<text x="31.6" y="121.35" font-size="11.2" text-anchor="end" font-family="Liberation Sans, sans-serif">10</text>
<text x="30.9" y="115.95" font-size="7.2" font-family="Liberation Sans, sans-serif">−1</text>
<text x="31.6" y="171.70" font-size="11.2" text-anchor="end" font-family="Liberation Sans, sans-serif">10</text>
<text x="30.9" y="166.30" font-size="7.2" font-family="Liberation Sans, sans-serif">−2</text>
<text x="31.6" y="222.05" font-size="11.2" text-anchor="end" font-family="Liberation Sans, sans-serif">10</text>
<text x="30.9" y="216.65" font-size="7.2" font-family="Liberation Sans, sans-serif">−3</text>
<text x="31.6" y="272.40" font-size="11.2" text-anchor="end" font-family="Liberation Sans, sans-serif">10</text>
<text x="30.9" y="267.00" font-size="7.2" font-family="Liberation Sans, sans-serif">−4</text>
<text x="38.30" y="340.75" font-size="11.50" text-anchor="end" fill="#000" font-family="Liberation Sans, sans-serif" >2</text>
<text x="38.80" y="402.35" font-size="11.50" text-anchor="end" fill="#000" font-family="Liberation Sans, sans-serif" >1</text>
<text x="38.30" y="461.95" font-size="11.50" text-anchor="end" fill="#000" font-family="Liberation Sans, sans-serif" >0.5</text>
<text x="373.60" y="340.75" font-size="11.50" text-anchor="start" fill="#000" font-family="Liberation Sans, sans-serif" >2</text>
<text x="373.60" y="402.35" font-size="11.50" text-anchor="start" fill="#000" font-family="Liberation Sans, sans-serif" >1</text>
<text x="373.60" y="461.95" font-size="11.50" text-anchor="start" fill="#000" font-family="Liberation Sans, sans-serif" >0.5</text>
<text x="54.90" y="489.30" font-size="11.50" text-anchor="middle" fill="#000" font-family="Liberation Sans, sans-serif" >0</text>
<text x="177.78" y="489.30" font-size="11.50" text-anchor="middle" fill="#000" font-family="Liberation Sans, sans-serif" >20</text>
<text x="300.66" y="489.30" font-size="11.50" text-anchor="middle" fill="#000" font-family="Liberation Sans, sans-serif" >40</text>
<text x="354.30" y="503.00" font-size="13.00" text-anchor="start" fill="#000" font-family="Liberation Sans, sans-serif" >N</text>
<text x="362.80" y="506.80" font-size="9.00" text-anchor="start" fill="#000" font-family="Liberation Sans, sans-serif" >ch</text>
<text transform="translate(15.2,59.6) rotate(-90)" font-size="12.2" font-family="Liberation Sans, sans-serif">dN/dN</text>
<text transform="translate(18.9,25.2) rotate(-90)" font-size="7.2" font-family="Liberation Sans, sans-serif">ch</text>
<text transform="translate(18.4,426.0) rotate(-90)" font-size="9.0" font-family="Liberation Sans, sans-serif">Ratio to ALICE</text>
<text transform="translate(379.5,133.2) rotate(-90)" font-size="9.5" fill="#666" font-family="Liberation Sans, sans-serif">Rivet 3.1.10, ≥ 300k events</text>
<text transform="translate(380.3,314.6) rotate(-90)" font-size="9.5" fill="#666" font-family="Liberation Sans, sans-serif">mcplots.cern.ch [arXiv:1306.3436]</text>
</svg>
</body></html>
